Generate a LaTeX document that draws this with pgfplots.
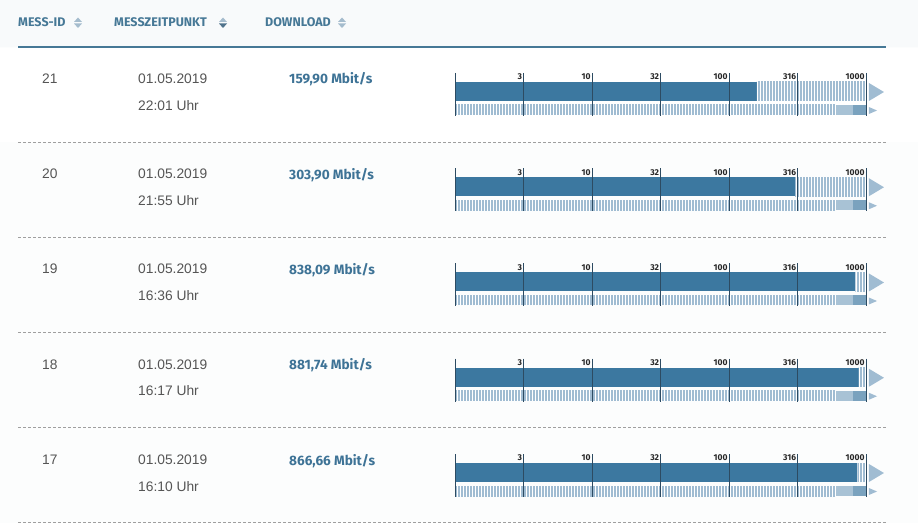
\documentclass[border=0pt]{standalone}
\usepackage{pgfplots}
\pgfplotsset{compat=1.18}
\usetikzlibrary{patterns.meta}
\usepackage{fontspec}
\setmainfont{Liberation Sans}
\newfontfamily\fira{Fira Sans}

\definecolor{bgc}{RGB}{252,253,253}
\definecolor{headbg}{RGB}{248,250,251}
\definecolor{barc}{RGB}{60,120,160}
\definecolor{stripe}{RGB}{160,188,210}
\definecolor{lightc}{RGB}{168,194,213}
\definecolor{midc}{RGB}{122,162,190}
\definecolor{tickc}{RGB}{45,75,98}
\definecolor{headc}{RGB}{70,120,150}
\definecolor{valc}{RGB}{62,115,150}
\definecolor{txtc}{RGB}{85,85,85}
\definecolor{iconc}{RGB}{165,188,205}
\definecolor{icondark}{RGB}{80,115,140}

\tikzset{hatch/.style={pattern={Lines[angle=90,distance=3bp,line width=1.7bp]}, pattern color=stripe}}

% #1 = bottom of the gauge (bp from the foot of the picture), #2 = measured value
\newcommand{\gauge}[2]{%
\begin{axis}[
    scale only axis, width=411bp, height=43bp,
    xmode=log, xmin=1, xmax=1000, ymin=0, ymax=43, y dir=reverse,
    hide axis, clip=false, anchor=south west, at={(455bp,#1)}]
  % upper bar: measured value, rest hatched
  \addplot[draw=none, fill=barc] coordinates {(1,9) (#2,9) (#2,28) (1,28)} -- cycle;
  \addplot[draw=none, fill=white] coordinates {(#2,9) (1000,9) (1000,28) (#2,28)} -- cycle;
  \addplot[draw=none, hatch] coordinates {(#2,9) (1000,9) (1000,28) (#2,28)} -- cycle;
  \addplot[draw=none, fill=stripe] coordinates {(1050,10) (1353,19) (1050,28)} -- cycle;
  % lower bar: tariff range
  \addplot[draw=none, fill=white] coordinates {(1,32) (600,32) (600,42) (1,42)} -- cycle;
  \addplot[draw=none, hatch] coordinates {(1,32) (600,32) (600,42) (1,42)} -- cycle;
  \addplot[draw=none, fill=lightc] coordinates {(600,32) (800,32) (800,42) (600,42)} -- cycle;
  \addplot[draw=none, fill=midc] coordinates {(800,32) (1000,32) (1000,42) (800,42)} -- cycle;
  \addplot[draw=none, fill=stripe] coordinates {(1050,34) (1203,37.5) (1050,41)} -- cycle;
  % scale
  \addplot[tickc, line width=0.75bp, ycomb, no marks] coordinates {(1,43) (3.162,43) (10,43) (31.62,43) (100,43) (316.2,43) (1000,43)};
  \foreach \v/\l in {3.162/3, 10/10, 31.62/32, 100/100, 316.2/316, 1000/1000}{
    \edef\tmp{\noexpand\node[anchor=north east, inner sep=0pt, xshift=-1.2bp, yshift=-0.8bp,
      font=\noexpand\fira\noexpand\bfseries\noexpand\fontsize{8.5bp}{9bp}\noexpand\selectfont, text=black!85]
      at (axis cs:\v,0) {\l};}\tmp
  }
\end{axis}}

\begin{document}
\begin{tikzpicture}
\begin{axis}[
  scale only axis, width=918bp, height=523bp,
  xmin=0, xmax=918, ymin=0, ymax=523, y dir=reverse,
  hide axis, clip=false, at={(0,0)}, anchor=south west,
]
  \addplot[draw=none, fill=bgc] coordinates {(0,0) (918,0) (918,523) (0,523)} -- cycle;
  \addplot[draw=none, fill=headbg] coordinates {(0,0) (918,0) (918,47) (0,47)} -- cycle;
  \addplot[draw=none, fill=white] coordinates {(0,48) (918,48) (918,142) (0,142)} -- cycle;
  % header
  \addplot[headc, line width=2bp] coordinates {(18,47) (886,47)};
  \foreach \x/\t in {18/MESS-ID, 114/MESSZEITPUNKT, 265/DOWNLOAD}{
    \edef\tmp{\noexpand\node[anchor=base west, inner sep=0pt, text=headc,
      font=\noexpand\fira\noexpand\bfseries\noexpand\fontsize{12.5bp}{14bp}\noexpand\selectfont]
      at (axis cs:\x,26.9) {\t};}\tmp
  }
  \addplot[draw=none, fill=iconc] coordinates {(74,22) (82,22) (78,17.5)} -- cycle;
  \addplot[draw=none, fill=iconc] coordinates {(74,23.5) (82,23.5) (78,28)} -- cycle;
  \addplot[draw=none, fill=iconc] coordinates {(219,22) (227,22) (223,17.5)} -- cycle;
  \addplot[draw=none, fill=icondark] coordinates {(219,23.5) (227,23.5) (223,28)} -- cycle;
  \addplot[draw=none, fill=iconc] coordinates {(338,22) (346,22) (342,17.5)} -- cycle;
  \addplot[draw=none, fill=iconc] coordinates {(338,23.5) (346,23.5) (342,28)} -- cycle;
  % row separators
  \foreach \y in {142,237,332,427,522}{
    \edef\tmp{\noexpand\addplot[gray!75, line width=0.6bp, dash pattern=on 3bp off 2bp]
      coordinates {(18,\y) (886,\y)};}\tmp
  }
  % rows
  \foreach \i/\id/\d/\t/\val in {0/21/01.05.2019/22:01/{159,90}, 1/20/01.05.2019/21:55/{303,90},
      2/19/01.05.2019/16:36/{838,09}, 3/18/01.05.2019/16:17/{881,74}, 4/17/01.05.2019/16:10/{866,66}}{
    \pgfmathsetmacro\ya{83.3+95.25*\i}
    \pgfmathsetmacro\yb{110+95.25*\i}
    \pgfmathsetmacro\yc{84+95.25*\i}
    \edef\tmp{
      \noexpand\node[anchor=base west, inner sep=0pt, text=txtc, font=\noexpand\fontsize{13.8bp}{15bp}\noexpand\selectfont] at (axis cs:42,\ya) {\id};
      \noexpand\node[anchor=base west, inner sep=0pt, text=txtc, font=\noexpand\fontsize{13.8bp}{15bp}\noexpand\selectfont] at (axis cs:138,\ya) {\d};
      \noexpand\node[anchor=base west, inner sep=0pt, text=txtc, font=\noexpand\fontsize{13.8bp}{15bp}\noexpand\selectfont] at (axis cs:138,\yb) {\t\space Uhr};
      \noexpand\node[anchor=base west, inner sep=0pt, text=valc, font=\noexpand\fira\noexpand\bfseries\noexpand\fontsize{13.6bp}{15bp}\noexpand\selectfont] at (axis cs:289,\yc) {\val\space Mbit/s};
    }\tmp
  }
\end{axis}
\gauge{407bp}{159.90}
\gauge{311.75bp}{303.90}
\gauge{216.5bp}{838.09}
\gauge{121.25bp}{881.74}
\gauge{26bp}{866.66}
\end{tikzpicture}
\end{document}
